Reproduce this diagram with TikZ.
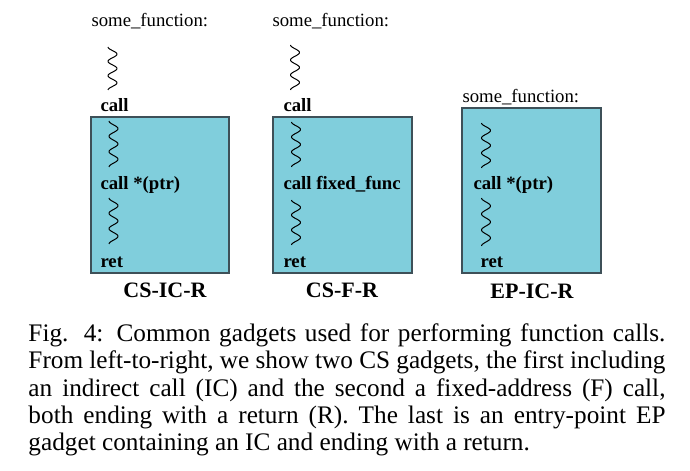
\documentclass[tikz,border=0pt]{standalone}
\usepackage{fontspec}
\setmainfont{Liberation Serif}
\definecolor{gadgetfill}{RGB}{128,206,220}
\definecolor{gadgetline}{RGB}{62,80,88}

\begin{document}
\begin{tikzpicture}[x=0.4pt,y=-0.4pt,
  gadget/.style={line width=0.5pt,draw=gadgetline,fill=gadgetfill},
  wavy/.style={line width=0.4pt,line join=round},
  fnlabel/.style={font=\fontsize{7.5}{9}\selectfont,anchor=base west,inner sep=0pt},
  insn/.style={font=\fontsize{7.5}{9}\selectfont\bfseries,anchor=base west,inner sep=0pt},
  gname/.style={font=\fontsize{8.8}{10}\selectfont\bfseries,anchor=base,inner sep=0pt}]
\useasboundingbox (0,0) rectangle (690,471);
% CS-IC-R
\node[fnlabel] (fnA) at (91,27) {some\_function:};
\draw[wavy] plot[domain=0:43,samples=61] ({112.5+4.5*sin(25.1*\x-90)},{47+\x});
\node[insn] (callA) at (100,112) {call};
\draw[gadget] (91,117) rectangle (229,273);
\draw[wavy] plot[domain=0:46,samples=61] ({113.5+4.5*sin(23.5*\x-90)},{121+\x});
\node[insn] (icA) at (100,190) {call *(ptr)};
\draw[wavy] plot[domain=0:46,samples=61] ({113.5+4.5*sin(23.5*\x-90)},{198+\x});
\node[insn] (retA) at (100,267) {ret};
\node[gname] (nameA) at (165,297) {CS-IC-R};
% CS-F-R
\node[fnlabel] (fnB) at (272,27) {some\_function:};
\draw[wavy] plot[domain=0:45,samples=61] ({295+4.5*sin(24*\x-90)},{45+\x});
\node[insn] (callB) at (283,112) {call};
\draw[gadget] (273,117) rectangle (412,273);
\draw[wavy] plot[domain=0:45,samples=61] ({296+4.5*sin(24*\x-90)},{122+\x});
\node[insn] (fixB) at (283,190) {call fixed\_func};
\draw[wavy] plot[domain=0:45,samples=61] ({296+4.5*sin(24*\x-90)},{200+\x});
\node[insn] (retB) at (283,267) {ret};
\node[gname] (nameB) at (342,297) {CS-F-R};
% EP-IC-R
\draw[gadget] (462,108) rectangle (601,273);
\node[fnlabel] (fnC) at (462,103) {some\_function:};
\draw[wavy] plot[domain=0:45,samples=61] ({486+4.5*sin(24*\x-90)},{123+\x});
\node[insn] (icC) at (473,190) {call *(ptr)};
\draw[wavy] plot[domain=0:48,samples=61] ({486+4.5*sin(22.5*\x-90)},{198+\x});
\node[insn] (retC) at (480,267) {ret};
\node[gname] (nameC) at (532,298) {EP-IC-R};
% caption
\node[anchor=north west,inner sep=0pt,text width=254.8pt,align=justify,
  font=\fontsize{10.1}{10.95}\selectfont] (cap) at (28,323)
  {\hyphenpenalty=10000\exhyphenpenalty=10000\emergencystretch=3em
   Fig. 4: Common gadgets used for performing function calls.\linebreak
   From left-to-right, we show two CS gadgets, the first including\linebreak
   an indirect call (IC) and the second a fixed-address (F) call,\linebreak
   both ending with a return (R). The last is an entry-point EP\linebreak
   gadget containing an IC and ending with a return.};
\end{tikzpicture}
\end{document}
